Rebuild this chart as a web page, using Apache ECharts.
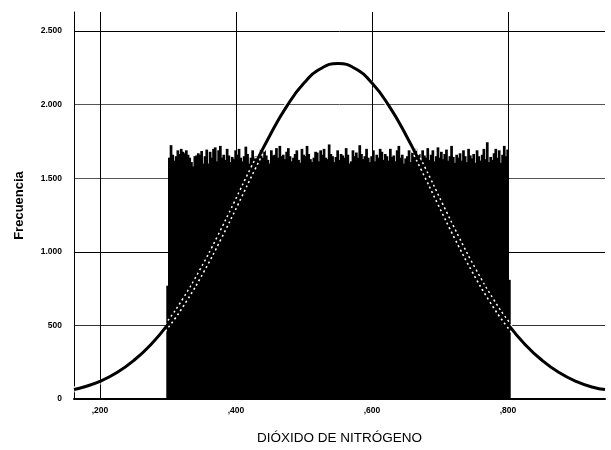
<!DOCTYPE html>
<html lang="es">
<head>
    <meta charset="UTF-8">
    <title>Dióxido de nitrógeno</title>
    <script src="https://cdn.jsdelivr.net/npm/echarts@6/dist/echarts.min.js"></script>
    <style>
        html, body { margin: 0; padding: 0; background: #fff; }
        #main { width: 611px; height: 450px; }
    </style>
</head>
<body>
<div id="main"></div>

<script>
    // histograma: primera clase (media) + 200 clases + ultima clase (media)
    var binStart = 0.2975;
    var binWidth = 0.0025;
    var counts = [
        770,
        1640, 1725, 1660, 1620, 1650, 1690, 1665, 1700, 1680, 1670,
        1690, 1660, 1640, 1610, 1580, 1650, 1655, 1670, 1660, 1685,
        1600, 1650, 1695, 1600, 1680, 1640, 1700, 1710, 1615, 1690,
        1720, 1640, 1660, 1625, 1700, 1655, 1610, 1645, 1630, 1690,
        1660, 1700, 1640, 1615, 1650, 1715, 1665, 1600, 1640, 1690,
        1635, 1650, 1625, 1660, 1700, 1640, 1690, 1655, 1625, 1600,
        1690, 1655, 1660, 1705, 1640, 1720, 1650, 1660, 1630, 1680,
        1705, 1650, 1615, 1640, 1665, 1690, 1625, 1605, 1700, 1660,
        1650, 1720, 1665, 1630, 1610, 1640, 1680, 1675, 1615, 1690,
        1660, 1700, 1640, 1630, 1730, 1665, 1650, 1610, 1645, 1690,
        1625, 1665, 1655, 1640, 1705, 1660, 1600, 1615, 1690, 1650,
        1675, 1640, 1725, 1665, 1630, 1650, 1700, 1640, 1610, 1650,
        1690, 1615, 1660, 1640, 1700, 1680, 1625, 1665, 1650, 1620,
        1700, 1645, 1655, 1615, 1690, 1720, 1640, 1660, 1600, 1635,
        1650, 1690, 1610, 1675, 1645, 1700, 1630, 1665, 1620, 1690,
        1655, 1640, 1705, 1625, 1660, 1690, 1615, 1650, 1710, 1640,
        1680, 1630, 1665, 1695, 1620, 1650, 1720, 1645, 1605, 1660,
        1640, 1670, 1620, 1690, 1650, 1610, 1700, 1655, 1635, 1665,
        1605, 1690, 1650, 1620, 1660, 1700, 1630, 1745, 1610, 1645,
        1625, 1670, 1700, 1640, 1690, 1605, 1660, 1720, 1650, 1695,
        810
    ];

    // curva normal
    var curveX = [0.1618, 0.175, 0.2, 0.225, 0.25, 0.275, 0.3, 0.325, 0.35, 0.375,
        0.4, 0.425, 0.45, 0.475, 0.5, 0.525, 0.55, 0.575, 0.6, 0.625,
        0.65, 0.675, 0.7, 0.725, 0.75, 0.775, 0.8, 0.825, 0.85, 0.875,
        0.9, 0.925, 0.9426];
    var curveY = [64, 80, 120, 180, 263, 371, 508, 676, 873, 1093,
        1328, 1567, 1793, 1992, 2147, 2246, 2280, 2246, 2147, 1992,
        1793, 1567, 1328, 1093, 873, 676, 508, 371, 263, 180,
        120, 80, 64];

    var xMin = 0.1618, xMax = 0.9426;
    var yMax = 2630;

    var bars = counts.map(function (c, i) {
        return [binStart + i * binWidth, binStart + (i + 1) * binWidth, c];
    });
    var curve = curveX.map(function (x, i) { return [x, curveY[i]]; });

    function fmtY(v) {
        if (v % 500 !== 0) return '';
        if (v < 1000) return String(v);
        var r = v % 1000;
        return Math.floor(v / 1000) + '.' + (r < 10 ? '00' : r < 100 ? '0' : '') + r;
    }
    function fmtX(v) {
        var r = Math.round(v * 1000);
        if (r % 200 !== 0) return '';
        return ',' + String(r);
    }

    var myChart = echarts.init(document.getElementById('main'), null, {renderer: 'canvas'});

    var option = {
        animation: false,
        backgroundColor: '#fff',
        grid: {left: 74, right: 6, top: 12, bottom: 46},
        xAxis: {
            type: 'value',
            min: xMin,
            max: xMax,
            splitNumber: 4,
            name: 'DIÓXIDO DE NITRÓGENO',
            nameLocation: 'middle',
            nameGap: 32,
            nameTextStyle: {fontFamily: 'Liberation Sans', fontSize: 13.5, color: '#000'},
            axisLine: {lineStyle: {color: '#000', width: 2}},
            axisTick: {show: false},
            axisLabel: {
                formatter: fmtX, fontFamily: 'Liberation Sans', fontSize: 8.5, fontWeight: 'bold',
                color: '#000', margin: 7, showMinLabel: true, showMaxLabel: true
            },
            splitLine: {
                show: true,
                lineStyle: {color: ['rgba(0,0,0,0)', '#000', '#000', '#000', '#000', 'rgba(0,0,0,0)'], width: 1}
            }
        },
        yAxis: {
            type: 'value',
            min: 0,
            max: yMax,
            interval: 500,
            name: 'Frecuencia',
            nameLocation: 'middle',
            nameGap: 48,
            nameTextStyle: {fontFamily: 'Liberation Sans', fontSize: 13, fontWeight: 'bold', color: '#000'},
            axisLine: {show: true, lineStyle: {color: '#000', width: 1}},
            axisTick: {show: false},
            axisLabel: {formatter: fmtY, fontFamily: 'Liberation Sans', fontSize: 8.5, fontWeight: 'bold', color: '#000', margin: 12},
            splitLine: {
                show: true,
                lineStyle: {color: ['#000', '#333', '#000', '#555', '#555', '#000', 'rgba(0,0,0,0)'], width: 1}
            }
        },
        series: [
            {
                type: 'custom',
                z: 2,
                renderItem: function (params, api) {
                    var p0 = api.coord([api.value(0), api.value(2)]);
                    var p1 = api.coord([api.value(1), 0]);
                    // un poco mas ancho para que las barras se solapen sin huecos
                    return {
                        type: 'rect',
                        shape: {x: p0[0], y: p0[1], width: p1[0] - p0[0] + 1, height: p1[1] - p0[1]},
                        style: {fill: '#000'}
                    };
                },
                encode: {x: [0, 1], y: 2},
                data: bars
            },
            {
                type: 'line',
                z: 3,
                smooth: true,
                symbol: 'none',
                lineStyle: {color: '#fff', width: 6, type: [2, 3]},
                data: curve
            },
            {
                type: 'line',
                z: 4,
                smooth: true,
                symbol: 'none',
                lineStyle: {color: '#000', width: 3},
                data: curve
            }
        ]
    };

    myChart.setOption(option, true);
</script>
</body>
</html>
